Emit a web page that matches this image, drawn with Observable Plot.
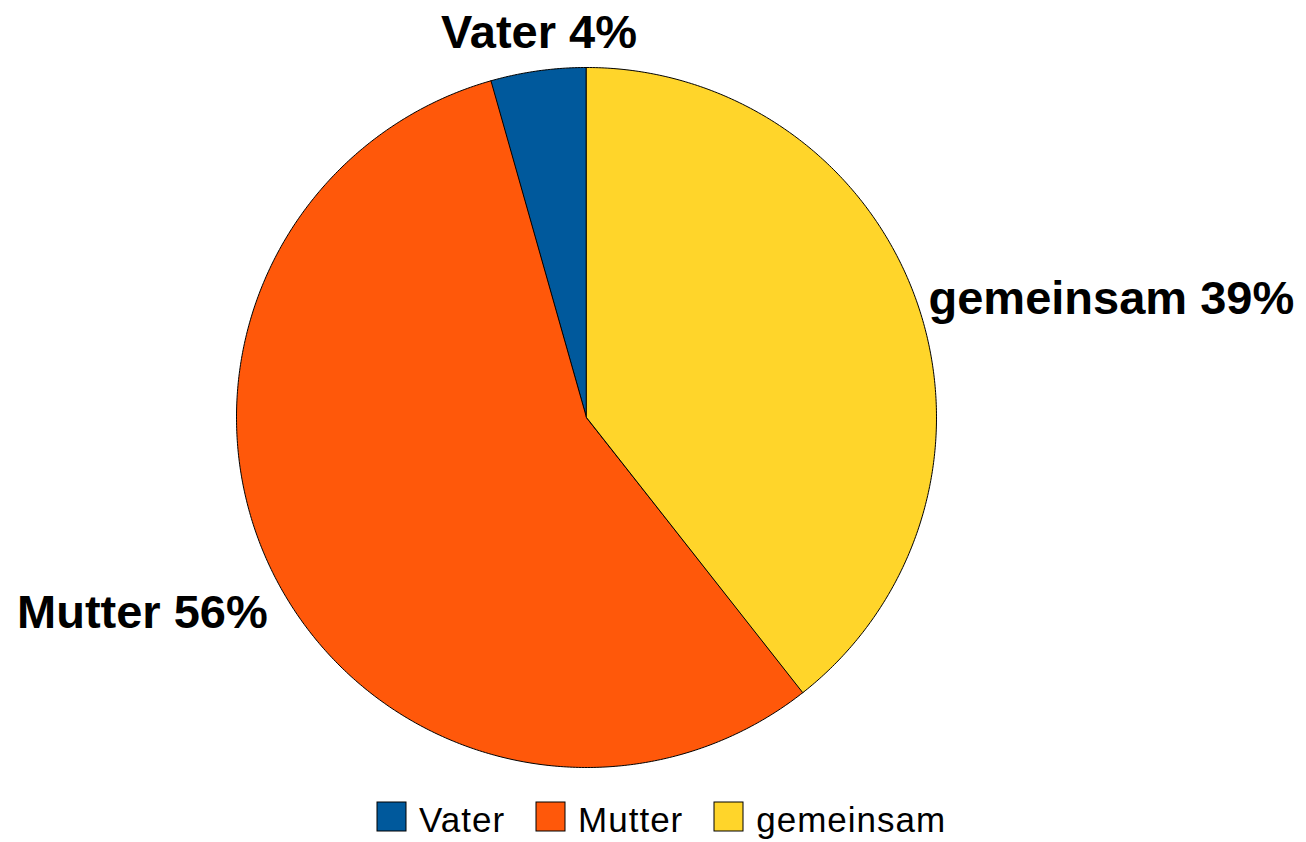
<!DOCTYPE html>
<html>
<head>
<meta charset="utf-8">
<script src="https://cdn.jsdelivr.net/npm/d3@7"></script>
<script src="https://cdn.jsdelivr.net/npm/@observablehq/plot@0.6"></script>
<style>
html, body { margin: 0; padding: 0; background: #fff; }
#chart { position: absolute; left: 0; top: 0; }
#legend { position: absolute; left: 377px; top: 805px; }
#legend div { min-height: 0 !important; margin: 0 !important; font-family: "Liberation Sans", Arial, sans-serif !important; font-size: 35px !important; letter-spacing: 1px; color: #000; }
#legend span { margin-right: 31px !important; line-height: 29px; display: inline-flex; align-items: center; }
#legend svg { margin-right: 13px !important; position: relative; top: -3px; overflow: visible; }
#legend svg rect { stroke: #000; stroke-width: 1px; }
</style>
</head>
<body>
<div id="chart"></div>
<div id="legend"></div>
<script>
// ---- data ----
const categories = ["Vater", "Mutter", "gemeinsam"];
const shares = [4.4, 56.2, 39.4];
const shareLabels = ["4%", "56%", "39%"];
const colors = ["#00599c", "#ff580a", "#ffd52a"];

// ---- slices (counter-clockwise from 12 o'clock) ----
const total = d3.sum(shares);
let acc = 0;
const slices = categories.map((c, i) => {
  const a0 = acc / total * 2 * Math.PI;
  acc += shares[i];
  const a1 = acc / total * 2 * Math.PI;
  return {category: c, share: shares[i], a0, a1, mid: (a0 + a1) / 2, label: `${c} ${shareLabels[i]}`};
});
const pt = (a, r = 1) => [-Math.sin(a) * r, Math.cos(a) * r];
function ring(s) {
  const n = Math.max(2, Math.ceil((s.a1 - s.a0) / (2 * Math.PI) * 720));
  const pts = [[0, 0]];
  for (let k = 0; k <= n; k++) pts.push(pt(s.a0 + (s.a1 - s.a0) * k / n));
  pts.push([0, 0]);
  return pts;
}
const features = slices.map(s => ({type: "Feature", properties: s, geometry: {type: "Polygon", coordinates: [ring(s)]}}));

// label placement (style, not data)
const placement = {
  "Vater":     {r: 1.067, textAnchor: "middle", lineAnchor: "bottom", dx: 4, dy: 0},
  "Mutter":    {r: 1.022, textAnchor: "end",    lineAnchor: "middle", dx: 0, dy: 33},
  "gemeinsam": {r: 1.04,  textAnchor: "start",  lineAnchor: "middle", dx: -2, dy: 0}
};
const labelMarks = slices.map(s => {
  const p = placement[s.category];
  return Plot.text([s], {
    x: d => pt(d.mid, p.r)[0],
    y: d => pt(d.mid, p.r)[1],
    text: "label",
    textAnchor: p.textAnchor,
    lineAnchor: p.lineAnchor,
    dx: p.dx,
    dy: p.dy,
    fontSize: 47,
    fontWeight: "bold",
    fill: "black"
  });
});

const chart = Plot.plot({
  width: 1306,
  height: 795,
  marginLeft: 236,
  marginRight: 370,
  marginTop: 67,
  marginBottom: 28,
  style: {fontFamily: "'Liberation Sans', Arial, sans-serif", background: "#fff"},
  projection: {type: "reflect-y", clip: false, domain: {type: "Polygon", coordinates: [[[-1, -1], [1, -1], [1, 1], [-1, 1], [-1, -1]]]}},
  color: {domain: categories, range: colors},
  marks: [
    Plot.geo(features, {fill: d => d.properties.category, stroke: "black", strokeWidth: 1}),
    ...labelMarks
  ]
});
document.getElementById("chart").appendChild(chart);

const legend = Plot.legend({
  color: {type: "ordinal", domain: categories, range: colors},
  swatchSize: 29,
  className: "lg"
});
document.getElementById("legend").appendChild(legend);
</script>
</body>
</html>
